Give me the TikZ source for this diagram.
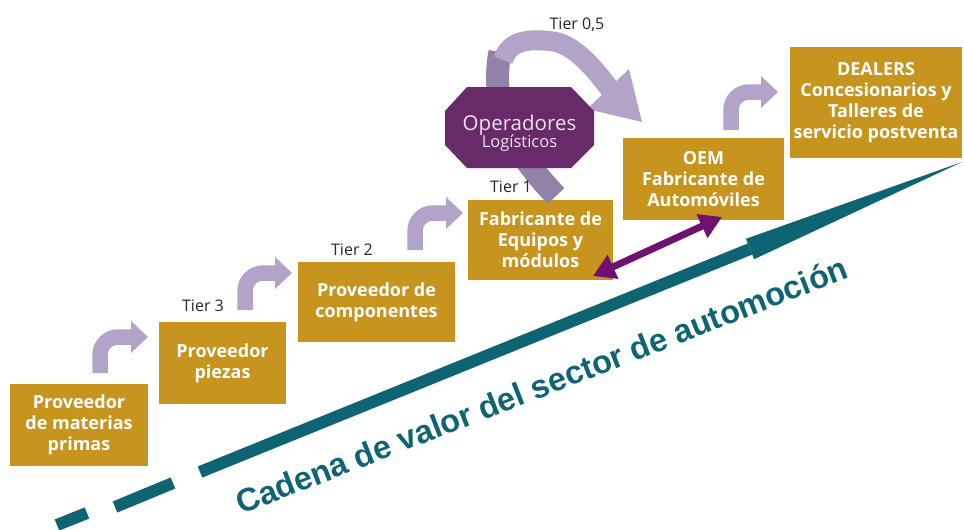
\documentclass[tikz,border=0pt]{standalone}
\usepackage{fontspec}
\setmainfont{Open Sans}
\newfontfamily\arialf{Liberation Sans}
\usetikzlibrary{arrows.meta}
\definecolor{gold}{RGB}{199,148,30}
\definecolor{lav}{RGB}{180,163,200}
\definecolor{darklav}{RGB}{146,130,168}
\definecolor{octcol}{RGB}{104,42,104}
\definecolor{octtext}{RGB}{236,226,242}
\definecolor{purp}{RGB}{112,16,112}
\definecolor{tealc}{RGB}{14,100,114}
\begin{document}
\begin{tikzpicture}[x=1pt,y=-1pt,
  box/.style={fill=gold, text=white, font=\fontsize{18}{21}\selectfont\bfseries, align=center, inner sep=0pt},
  tier/.style={font=\fontsize{16}{18}\selectfont, text=black!85, inner sep=0pt},
  bent/.style={draw=lav, line width=15.5pt, rounded corners=18pt, -{Triangle[length=17pt,width=31pt]}},
  tealline/.style={draw=tealc, line width=12pt},
  purparrow/.style={draw=purp, line width=7pt, {Triangle[length=22pt,width=25pt]}-{Triangle[length=22pt,width=25pt]}}
]
\useasboundingbox (0,0) rectangle (964,530);

% teal value-chain arrow
\coordinate (d1a) at (57,525);
\coordinate (d1b) at (87,513);
\coordinate (d2a) at (115,507);
\coordinate (d2b) at (173,483);
\coordinate (ts) at (200,472);
\coordinate (hb) at (750,249);
\coordinate (hb1) at (745.9,238.8);
\coordinate (hb2) at (754.1,259.2);
\coordinate (tt) at (962,162);
\draw[tealline] (d1a) -- (d1b);
\draw[tealline] (d2a) -- (d2b);
\draw[tealline] (ts) -- (hb);
\fill[tealc] (hb1) -- (tt) -- (hb2) -- cycle;
\node[font=\arialf\bfseries\fontsize{32.5}{33}\selectfont, text=tealc, rotate=21.3, anchor=base west, inner sep=0pt] (cad) at (241,515) {Cadena de valor del sector de automoción};

% boxes
\node[box, minimum width=138pt, minimum height=82pt] (b1) at (79,425) {Proveedor\\de materias\\primas};
\node[box, minimum width=127pt, minimum height=82pt] (b2) at (222.5,363) {Proveedor\\piezas};
\node[box, minimum width=157pt, minimum height=80pt] (b3) at (376.5,302) {Proveedor de\\componentes};
\node[box, minimum width=145pt, minimum height=80pt] (b4) at (540.5,240) {Fabricante de\\Equipos y\\módulos};
\node[box, minimum width=161pt, minimum height=82pt] (b5) at (703.5,179) {OEM\\Fabricante de\\Automóviles};
\node[box, minimum width=172pt, minimum height=111pt] (b6) at (876,102.5) {DEALERS\\Concesionarios y\\Talleres de\\servicio postventa};

% bent arrows
\coordinate (a1s) at (100,373); \coordinate (a1e) at (148,337);
\coordinate (a2s) at (245,310); \coordinate (a2e) at (292,273);
\coordinate (a3s) at (415,250); \coordinate (a3e) at (463,213);
\coordinate (a4s) at (731,130); \coordinate (a4e) at (778,92);
\draw[bent] (a1s) |- (a1e);
\draw[bent] (a2s) |- (a2e);
\draw[bent] (a3s) |- (a3e);
\draw[bent] (a4s) |- (a4e);

% big curved arrow (Tier 0,5)
\coordinate (ca) at (556,196);
\coordinate (cb) at (500,52);
\coordinate (cc) at (503,60);
\coordinate (cm) at (550,41);
\coordinate (cf) at (612,92);
\coordinate (h1) at (587,109);
\coordinate (h2) at (629,69);
\coordinate (ce) at (642,122);
\draw[draw=darklav, line width=23pt] (ca) .. controls (522,160) and (488,115) .. (cb);
\draw[draw=lav, line width=20pt] (cc) .. controls (510,40) and (528,39) .. (cm) .. controls (575,43) and (597,72) .. (cf);
\fill[lav] (h1) -- (h2) -- (ce) -- cycle;

% octagon
\fill[octcol] (467,87) -- (571,87) -- (594,111) -- (594,145) -- (571,168) -- (467,168) -- (445,145) -- (445,111) -- cycle;
\node[text=octtext, align=center, inner sep=0pt] (op) at (519.5,133) {\fontsize{20.5}{22}\selectfont Operadores\\[-1pt]\fontsize{16.5}{18}\selectfont Logísticos};

% double arrow
\coordinate (p1) at (593,276);
\coordinate (p2) at (722,217);
\draw[purparrow] (p1) -- (p2);

% tier labels
\node[tier] (t3) at (203,306) {Tier 3};
\node[tier] (t2) at (352,250) {Tier 2};
\node[tier] (t1) at (511,187) {Tier 1};
\node[tier] (t05) at (577,25) {Tier 0,5};
\end{tikzpicture}
\end{document}
